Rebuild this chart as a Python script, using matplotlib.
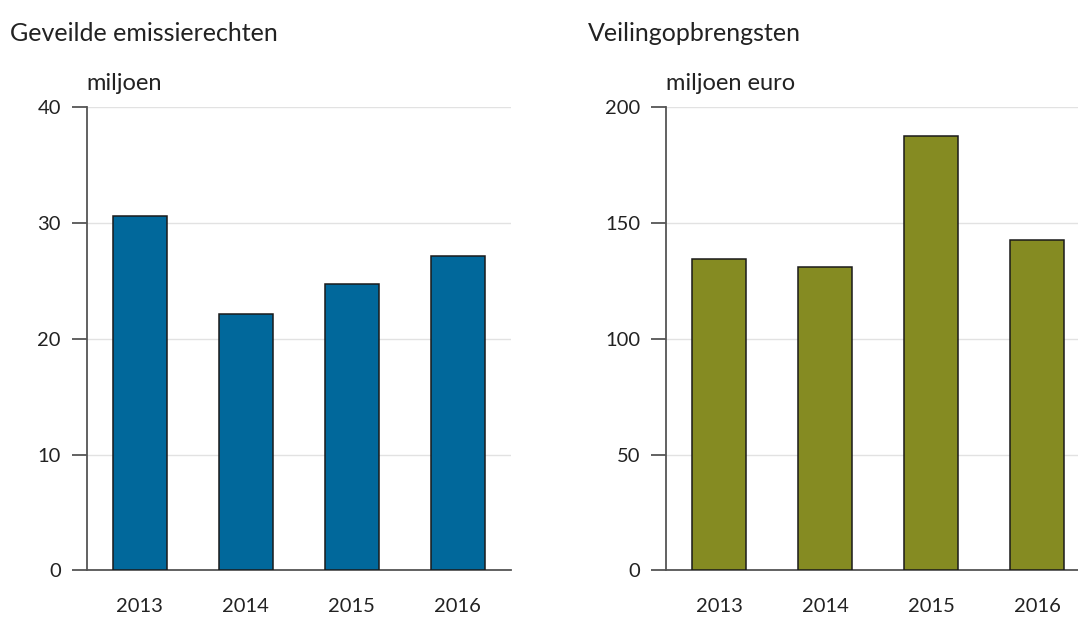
"""Geveilde emissierechten en veilingopbrengsten, 2013-2016."""

import matplotlib.pyplot as plt

plt.rcParams["font.family"] = ["Lato", "DejaVu Sans"]

years = ["2013", "2014", "2015", "2016"]
rechten = [30.6, 22.1, 24.7, 27.1]          # miljoen
opbrengsten = [134.2, 131.0, 187.5, 142.5]   # miljoen euro

BLUE = "#01689B"
OLIVE = "#858B22"
AXIS = "#555555"
GRID = "#E2E2E2"

fig = plt.figure(figsize=(10.78, 6.17), dpi=100)

panels = [
    (0.0804, rechten, BLUE, [0, 10, 20, 30, 40], 40, "Geveilde emissierechten", "miljoen", 10),
    (0.6178, opbrengsten, OLIVE, [0, 50, 100, 150, 200], 200, "Veilingopbrengsten", "miljoen euro", 588),
]

for left, values, color, yticks, ymax, title, unit, title_x in panels:
    ax = fig.add_axes([left, 0.0754, 0.3933, 0.7512])
    x = range(len(years))
    ax.bar(x, values, width=0.51, color=color, edgecolor="#1a1a1a", linewidth=1.1, zorder=3)

    ax.set_xlim(-0.5, 3.5)
    ax.set_ylim(0, ymax)
    ax.set_xticks(list(x))
    ax.set_xticklabels(years)
    ax.set_yticks(yticks)

    ax.grid(axis="y", color=GRID, linewidth=1.0, zorder=0)
    for s in ["top", "right"]:
        ax.spines[s].set_visible(False)
    for s in ["left", "bottom"]:
        ax.spines[s].set_color(AXIS)
        ax.spines[s].set_linewidth(1.3)

    ax.tick_params(axis="y", length=10.5, width=1.3, color=AXIS, pad=8, labelsize=14.5, labelcolor="#222222")
    ax.tick_params(axis="x", length=0, pad=20, labelsize=14.5, labelcolor="#222222")

    # title and unit above each panel
    fig.text(title_x / 1078, 0.9335, title, fontsize=18, color="#222222", va="baseline", ha="left")
    fig.text(left, 0.854, unit, fontsize=17, color="#222222", va="baseline", ha="left")

plt.savefig("out.png", dpi=100)
